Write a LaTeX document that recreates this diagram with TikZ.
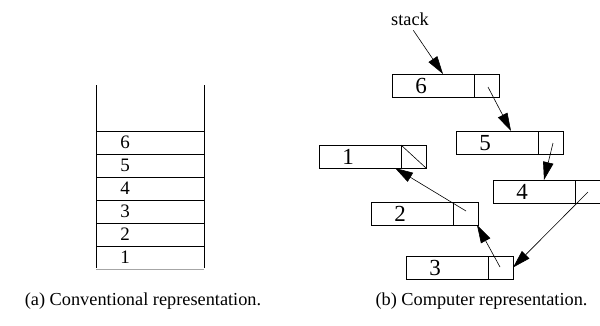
\documentclass[tikz,border=0pt]{standalone}
\usepackage{fontspec}
\setmainfont{Liberation Serif}
\usetikzlibrary{arrows.meta}
\begin{document}
\begin{tikzpicture}[x=1pt,y=-1pt,
  line width=0.6pt,
  every node/.style={font=\fontsize{18.3}{20}\selectfont, inner sep=0pt, outer sep=0pt},
  datacell/.style={draw, rectangle, minimum width=82pt, minimum height=23pt, anchor=north west},
  ptrcell/.style={draw, rectangle, minimum width=25pt, minimum height=23pt, anchor=west},
  num/.style={anchor=center, font=\fontsize{19}{20}\selectfont},
  bignum/.style={anchor=base, font=\fontsize{23}{24}\selectfont},
  link/.style={-{Triangle[length=18pt,width=10.5pt]}, line width=0.6pt},
  row/.style={draw, rectangle, minimum width=108pt, minimum height=23pt, anchor=north west}
]
\useasboundingbox (0,0) rectangle (600,325);

% conventional stack: open-topped column of cells
\draw (96,85) -- (96,268);
\draw (204,85) -- (204,268);
\node[row] (r6) at (96,131) {};
\node[row] (r5) at (96,154) {};
\node[row] (r4) at (96,177) {};
\node[row] (r3) at (96,200) {};
\node[row] (r2) at (96,223) {};
\node[row, draw=none] (r1) at (96,246) {};
\draw[gray!70] (r1.south west) -- (r1.south east);
\foreach \k in {1,...,6} \node[num] (c\k) at ([xshift=29pt]r\k.west) {\k};

% linked list cells
\node[datacell] (d6) at (392,74) {};
\node[ptrcell] (p6) at (d6.east) {};
\node[datacell] (d5) at (456,131) {};
\node[ptrcell] (p5) at (d5.east) {};
\node[datacell] (d4) at (493,180) {};
\node[ptrcell] (p4) at (d4.east) {};
\node[datacell] (d3) at (406,256) {};
\node[ptrcell] (p3) at (d3.east) {};
\node[datacell] (d2) at (371,202) {};
\node[ptrcell] (p2) at (d2.east) {};
\node[datacell] (d1) at (319,145) {};
\node[ptrcell] (p1) at (d1.east) {};
\draw (p1.north west) -- (p1.south east);
\foreach \k in {1,...,6} \node[bignum] (v\k) at ([xshift=29pt,yshift=-8pt]d\k.west) {\k};

\node (stk) at (410,19) {stack};
\coordinate (t6) at (443,74);
\coordinate (t5) at (511,131);
\coordinate (t4) at (544,180);
\coordinate (t2) at (477,225);
\coordinate (t1) at (395,168);
\coordinate (s6) at (488,87);
\coordinate (s5) at (553,143);
\coordinate (s4) at (588,192);
\coordinate (s3) at (500,267);
\coordinate (s2) at (466,211);

\draw[link, shorten <=6pt] (stk.south) -- (t6);
\draw[link] (s6) -- (t5);
\draw[link] (s5) -- (t4);
\draw[link] (s4) -- (p3.east);
\draw[link] (s3) -- (t2);
\draw[link] (s2) -- (t1);

\node (capa) at (143,301) {(a) Conventional representation.};
\node (capb) at (481.5,301) {(b) Computer representation.};
\end{tikzpicture}
\end{document}
